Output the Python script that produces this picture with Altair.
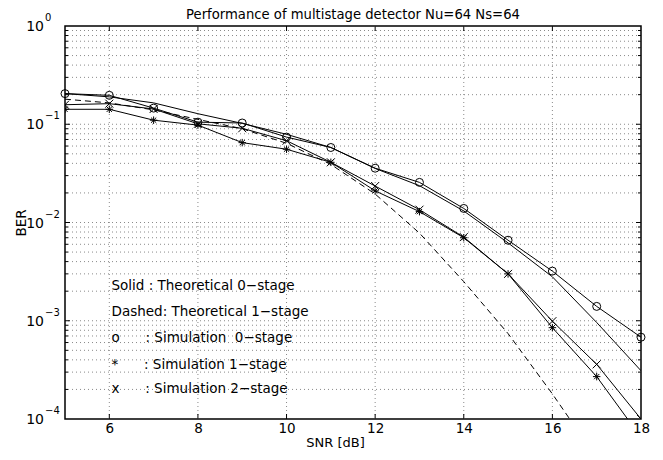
import altair as alt
import pandas as pd

# ---------------- data ----------------
snr = [5, 6, 7, 8, 9, 10, 11, 12, 13, 14, 15, 16, 17, 18]
theory_0stage = [0.205, 0.19, 0.165, 0.128, 0.102, 0.079, 0.058, 0.0355, 0.0237,
                 0.0131, 0.0062, 0.0028, 0.00096, 0.00031]
theory_1stage = [0.18, 0.165, 0.14, 0.112, 0.09, 0.064, 0.039, 0.0195, 0.0078,
                 0.0025, 0.00074, 0.00018, 0.00004, 0.000007]
sim_0stage = [0.205, 0.197, 0.146, 0.105, 0.103, 0.074, 0.058, 0.0357, 0.0256,
              0.0139, 0.0066, 0.0032, 0.0014, 0.00068]
sim_1stage = [0.142, 0.142, 0.11, 0.098, 0.065, 0.0557, 0.041, 0.021, 0.0129,
              0.0070, 0.0030, 0.00085, 0.00027, 0.000065]
sim_2stage = [0.158, 0.162, 0.143, 0.101, 0.091, 0.068, 0.041, 0.0235, 0.0135,
              0.0071, 0.0030, 0.00099, 0.00036, 0.000100]

x_ticks = [6, 8, 10, 12, 14, 16, 18]
x_grid = [6, 8, 10, 12, 14, 16]
y_decades = [1.0, 0.1, 0.01, 0.001, 0.0001]
y_exponents = ["0", "\u22121", "\u22122", "\u22123", "\u22124"]
y_minor = [m * 10.0 ** e for e in range(-4, 0) for m in range(2, 10)]
y_grid = y_minor + [0.1, 0.01, 0.001]

title_text = "Performance of multistage detector Nu=64 Ns=64"
NB = "\u00a0"
legend_lines = [
    "Solid : Theoretical 0\u2212stage",
    "Dashed: Theoretical 1\u2212stage",
    "o" + NB * 6 + ": Simulation" + NB * 2 + "0\u2212stage",
    "*" + NB * 6 + ": Simulation" + NB + "1\u2212stage",
    "x" + NB * 6 + ": Simulation" + NB + "2\u2212stage",
]
legend_ber = [0.00225, 0.00122, 0.000665, 0.000355, 0.0002]
legend_snr = [6.05] * 5

# ---------------- layout ----------------
W, H = 576, 393
FONT = "DejaVu Sans"

xscale = alt.Scale(domain=[5, 18], nice=False, zero=False)
yscale = alt.Scale(type="log", domain=[0.0001, 1], nice=False)

xaxis = alt.Axis(values=x_ticks, title="SNR [dB]", ticks=False, tickSize=0,
                 domain=False, grid=False, labelFont=FONT, labelFontSize=13.5,
                 labelColor="black", labelPadding=2, labelFlush=False,
                 labelOverlap=False, titleFont=FONT, titleFontSize=13,
                 titleFontWeight="normal", titleColor="black", titlePadding=1.5,
                 titleX=270, titleAlign="center")
yaxis = alt.Axis(labels=False, ticks=False, domain=False, grid=False,
                 title="BER", titleFont=FONT, titleFontSize=13.5,
                 titleFontWeight="normal", titleColor="black", titlePadding=37)

X = lambda: alt.X("snr:Q", scale=xscale, axis=xaxis)
Y = lambda: alt.Y("ber:Q", scale=yscale, axis=yaxis)

series = {
    "theory0": theory_0stage,
    "theory1": theory_1stage,
    "sim0": sim_0stage,
    "sim1": sim_1stage,
    "sim2": sim_2stage,
}
rows = []
for name, vals in series.items():
    for s, b in zip(snr, vals):
        rows.append({"series": name, "snr": s, "ber": b})
curves = pd.DataFrame(rows)

solid_df = curves[curves.series != "theory1"]
dashed_df = curves[curves.series == "theory1"]

grid_color = "#8a8a8a"
xgrid = alt.Chart(pd.DataFrame({"snr": x_grid})).mark_rule(
    color=grid_color, strokeDash=[1, 3], strokeWidth=1).encode(x=X())
ygrid = alt.Chart(pd.DataFrame({"ber": y_grid})).mark_rule(
    color=grid_color, strokeDash=[1, 3], strokeWidth=1).encode(y=Y())

# inward ticks (box style)
tick_x_df = pd.DataFrame({"snr": x_grid})
xt_bottom = alt.Chart(tick_x_df).mark_rule(color="black").encode(
    x=X(), y=alt.value(H - 5), y2=alt.value(H))
xt_top = alt.Chart(tick_x_df).mark_rule(color="black").encode(
    x=X(), y=alt.value(0), y2=alt.value(5))
maj_df = pd.DataFrame({"ber": [0.1, 0.01, 0.001]})
min_df = pd.DataFrame({"ber": y_minor})
yt = []
for df, L in ((maj_df, 5), (min_df, 3)):
    yt.append(alt.Chart(df).mark_rule(color="black").encode(
        y=Y(), x=alt.value(0), x2=alt.value(L)))
    yt.append(alt.Chart(df).mark_rule(color="black").encode(
        y=Y(), x=alt.value(W - L), x2=alt.value(W)))

solid_lines = alt.Chart(solid_df).mark_line(
    color="black", strokeWidth=1, clip=True).encode(
    x=X(), y=Y(), detail="series:N", order="snr:Q")
dashed_line = alt.Chart(dashed_df).mark_line(
    color="black", strokeWidth=1, strokeDash=[6, 4], clip=True).encode(
    x=X(), y=Y(), order="snr:Q")

pt_common = dict(filled=False, color="black", strokeWidth=1, opacity=1)
circ = alt.Chart(curves[curves.series == "sim0"]).mark_point(
    shape="circle", size=64, **pt_common).encode(x=X(), y=Y())
star = alt.Chart(curves[curves.series == "sim1"]).mark_point(
    shape="M-1,0L1,0M0,-1L0,1M-0.7,-0.7L0.7,0.7M-0.7,0.7L0.7,-0.7",
    size=56, clip=True, **pt_common).encode(x=X(), y=Y())
cross = alt.Chart(curves[curves.series == "sim2"]).mark_point(
    shape="M-1,-1L1,1M-1,1L1,-1", size=64, clip=True, **pt_common).encode(x=X(), y=Y())

legend_df = pd.DataFrame({"snr": legend_snr, "ber": legend_ber, "txt": legend_lines})
legend_text = alt.Chart(legend_df).mark_text(
    align="left", baseline="middle", font=FONT, fontSize=13.5, color="black").encode(
    x=X(), y=Y(), text="txt:N")

ylab_df = pd.DataFrame({"ber": y_decades, "base": ["10"] * 5, "exp": y_exponents})
ylab_base = alt.Chart(ylab_df).mark_text(
    align="right", baseline="middle", font=FONT, fontSize=14, color="black", dy=1).encode(
    y=Y(), x=alt.value(-21), text="base:N")
ylab_exp = alt.Chart(ylab_df).mark_text(
    align="left", baseline="middle", font=FONT, fontSize=10, color="black", dy=-8).encode(
    y=Y(), x=alt.value(-20), text="exp:N")

title_df = pd.DataFrame({"t": [title_text]})
title_mark = alt.Chart(title_df).mark_text(
    align="center", baseline="alphabetic", font=FONT, fontSize=13.2, color="black").encode(
    x=alt.value(W / 2), y=alt.value(-7), text="t:N")

chart = alt.layer(
    xgrid, ygrid, xt_bottom, xt_top, *yt,
    dashed_line, solid_lines, circ, star, cross,
    legend_text, ylab_base, ylab_exp, title_mark,
).properties(
    width=W, height=H,
    autosize=alt.AutoSizeParams(type="none"),
    padding={"left": 57, "top": 18, "right": 14, "bottom": 33},
    background="white",
).configure_view(stroke="black", strokeWidth=1.5)

chart.save("out.html", embed_options={"renderer": "svg", "actions": False})
